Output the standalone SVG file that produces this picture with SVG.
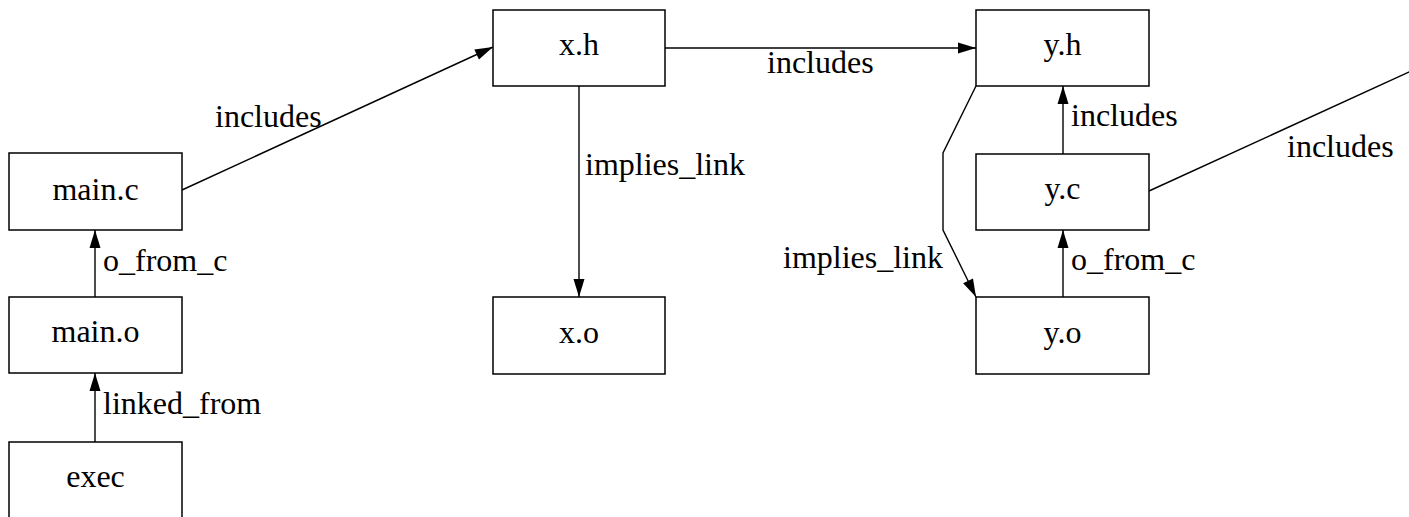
<svg xmlns="http://www.w3.org/2000/svg" width="1409" height="517" viewBox="0 0 1409 517">
<style>
.n rect{fill:#fff;stroke:#000;stroke-width:1.5}
text{font-family:'Liberation Serif','DejaVu Serif',serif;font-size:32px;fill:#000}
.c{text-anchor:middle}
#edges path{fill:none;stroke:#000;stroke-width:1.4}
</style>
<defs>
<marker id="ah" markerUnits="userSpaceOnUse" markerWidth="20" markerHeight="12" refX="18" refY="5.5" orient="auto" overflow="visible">
<path d="M0,0 L18,5.5 L0,11 z" style="fill:#000;stroke:none"/>
</marker>
</defs>
<rect width="1409" height="517" fill="#fff"/>
<g id="edges">
<path d="M182,190 L493,47" marker-end="url(#ah)"/>
<path d="M95,297 L95,230" marker-end="url(#ah)"/>
<path d="M95,442 L95,373" marker-end="url(#ah)"/>
<path d="M665,48 L976,48" marker-end="url(#ah)"/>
<path d="M579,86 L579,297" marker-end="url(#ah)"/>
<path d="M976,86 L943,153 L943,230 L976,297" marker-end="url(#ah)"/>
<path d="M1063,154 L1063,86" marker-end="url(#ah)"/>
<path d="M1063,297 L1063,230" marker-end="url(#ah)"/>
<path d="M1149,191 L1420,67"/>
<text x="215" y="127">includes</text>
<text x="767" y="73">includes</text>
<text x="585" y="175">implies_link</text>
<text x="783" y="268">implies_link</text>
<text x="1071" y="126">includes</text>
<text x="1071" y="270">o_from_c</text>
<text x="1287" y="157">includes</text>
<text x="103" y="271">o_from_c</text>
<text x="103" y="414">linked_from</text>
</g>
<g id="main_c" class="n"><rect x="9" y="153" width="173" height="77"/><text class="c" x="95.5" y="200">main.c</text></g>
<g id="main_o" class="n"><rect x="9" y="297" width="173" height="76"/><text class="c" x="95.5" y="342">main.o</text></g>
<g id="exec" class="n"><rect x="9" y="442" width="173" height="80"/><text class="c" x="95.5" y="487">exec</text></g>
<g id="x_h" class="n"><rect x="493" y="10" width="172" height="76"/><text class="c" x="579" y="55">x.h</text></g>
<g id="x_o" class="n"><rect x="493" y="297" width="172" height="77"/><text class="c" x="579" y="343">x.o</text></g>
<g id="y_h" class="n"><rect x="976" y="10" width="173" height="76"/><text class="c" x="1062.5" y="55">y.h</text></g>
<g id="y_c" class="n"><rect x="976" y="154" width="173" height="76"/><text class="c" x="1062.5" y="199">y.c</text></g>
<g id="y_o" class="n"><rect x="976" y="297" width="173" height="77"/><text class="c" x="1062.5" y="343">y.o</text></g>
</svg>
